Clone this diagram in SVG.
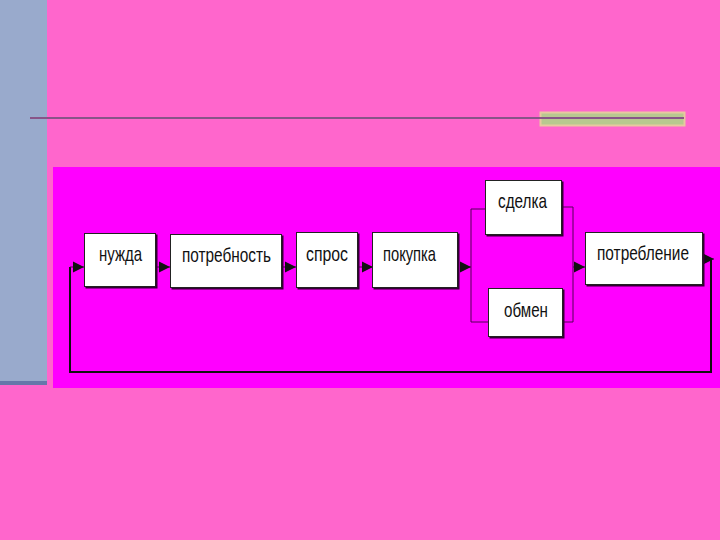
<svg xmlns="http://www.w3.org/2000/svg" width="720" height="540" viewBox="0 0 720 540">
<defs>
<style>
.box{fill:#ffffff;stroke:#222222;stroke-width:1}
.sh{fill:#330033}
.lbl{font-family:"Liberation Sans",Arial,sans-serif;font-size:21px;fill:#111111}
.thin{fill:none;stroke:#550055;stroke-width:1}
.loop{fill:none;stroke:#111111;stroke-width:2}
</style>
<marker id="ah" viewBox="0 0 10 10" refX="10" refY="5" markerWidth="11" markerHeight="12" markerUnits="userSpaceOnUse" orient="auto">
<path d="M0,0 L10,5 L0,10 Z" fill="#111111"/>
</marker>
</defs>
<rect x="0" y="0" width="720" height="540" fill="#ff66cc"/>
<rect x="0" y="0" width="47" height="385" fill="#99aacc"/>
<rect x="0" y="381" width="47" height="4" fill="#6677aa"/>
<rect x="540.5" y="112.5" width="144" height="13" fill="#b8c890" stroke="#e8c8a0" stroke-width="2"/>
<line x1="30" y1="118" x2="684" y2="118" stroke="#885588" stroke-width="2"/>
<rect x="53" y="167" width="667" height="221" fill="#ff00ff"/>
<g id="connectors">
<line class="thin" x1="157" y1="267" x2="170" y2="267" marker-end="url(#ah)"/>
<line class="thin" x1="283" y1="267" x2="296" y2="267" marker-end="url(#ah)"/>
<line class="thin" x1="359" y1="267" x2="373" y2="267" marker-end="url(#ah)"/>
<line class="thin" x1="460" y1="267" x2="471" y2="267" marker-end="url(#ah)"/>
<polyline class="thin" points="485,209 471,209 471,322 488,322"/>
<polyline class="thin" points="562,207 573,207 573,322 563,322"/>
<line class="thin" x1="573" y1="267" x2="585" y2="267" marker-end="url(#ah)"/>
<line class="thin" x1="703" y1="259" x2="714" y2="259" marker-end="url(#ah)"/>
<polyline class="loop" points="711,259 711,372 70,372 70,267"/>
<line class="thin" x1="70" y1="267" x2="84" y2="267" marker-end="url(#ah)"/>
</g>
<g id="n1"><rect class="sh" x="85.5" y="234.5" width="72" height="54"/><rect class="box" x="84.5" y="233.5" width="71" height="53"/><text class="lbl" x="99" y="261" textLength="43" lengthAdjust="spacingAndGlyphs">нужда</text></g>
<g id="n2"><rect class="sh" x="171.5" y="235.5" width="112" height="54"/><rect class="box" x="170.5" y="234.5" width="111" height="53"/><text class="lbl" x="182" y="262" textLength="89" lengthAdjust="spacingAndGlyphs">потребность</text></g>
<g id="n3"><rect class="sh" x="297.5" y="233.5" width="62" height="56"/><rect class="box" x="296.5" y="232.5" width="61" height="55"/><text class="lbl" x="306" y="261" textLength="42" lengthAdjust="spacingAndGlyphs">спрос</text></g>
<g id="n4"><rect class="sh" x="373.5" y="233.5" width="86" height="56"/><rect class="box" x="372.5" y="232.5" width="85" height="55"/><text class="lbl" x="383" y="261" textLength="53" lengthAdjust="spacingAndGlyphs">покупка</text></g>
<g id="n5"><rect class="sh" x="486.5" y="181.5" width="77" height="55"/><rect class="box" x="485.5" y="180.5" width="76" height="54"/><text class="lbl" x="498" y="208" textLength="49" lengthAdjust="spacingAndGlyphs">сделка</text></g>
<g id="n6"><rect class="sh" x="489.5" y="289.5" width="75" height="49"/><rect class="box" x="488.5" y="288.5" width="74" height="48"/><text class="lbl" x="504" y="317" textLength="44" lengthAdjust="spacingAndGlyphs">обмен</text></g>
<g id="n7"><rect class="sh" x="586.5" y="233.5" width="118" height="53"/><rect class="box" x="585.5" y="232.5" width="117" height="52"/><text class="lbl" transform="translate(597,260) scale(0.73,1)" x="0" y="0" textLength="126" lengthAdjust="spacingAndGlyphs">потребление</text></g>
</svg>
